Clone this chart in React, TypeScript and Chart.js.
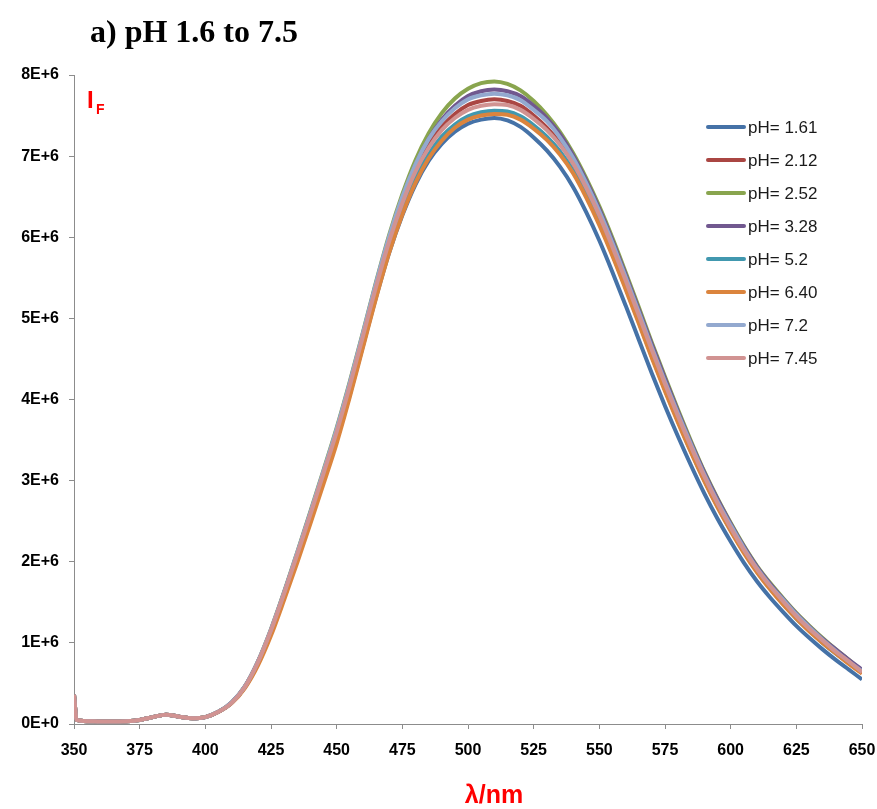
import React, { useEffect, useRef } from 'react';
import { Chart, registerables } from 'chart.js';

Chart.register(...registerables);

// wavelength (nm)
const WAVELENGTH = [
  350, 351, 355, 360, 365, 370, 375, 380, 385, 390, 395, 400, 405,
  410, 415, 420, 425, 430, 435, 440, 445, 450, 455,
  460, 465, 470, 475, 480, 485, 490, 495, 500, 505,
  510, 515, 520, 525, 530, 535, 540, 545, 550, 555,
  560, 565, 570, 575, 580, 585, 590, 595, 600, 605,
  610, 615, 620, 625, 630, 635, 640, 645, 650,
];

// fluorescence intensity, in units of 1E+6
const PH_1_61 = [
  0.36, 0.05, 0.035, 0.03, 0.03, 0.035, 0.05, 0.085, 0.115, 0.09, 0.07, 0.085, 0.15,
  0.26, 0.45, 0.74, 1.12, 1.56, 2.03, 2.51, 3.0, 3.5, 4.06,
  4.66, 5.26, 5.81, 6.27, 6.65, 6.94, 7.15, 7.3, 7.4, 7.45,
  7.47, 7.44, 7.36, 7.23, 7.07, 6.87, 6.62, 6.31, 5.96, 5.57,
  5.16, 4.74, 4.32, 3.92, 3.54, 3.18, 2.84, 2.53, 2.25, 1.99,
  1.76, 1.56, 1.38, 1.21, 1.06, 0.92, 0.79, 0.67, 0.55,
];
const PH_2_12 = [
  0.36, 0.05, 0.035, 0.03, 0.03, 0.035, 0.05, 0.085, 0.115, 0.09, 0.07, 0.085, 0.15,
  0.26, 0.455, 0.76, 1.15, 1.6, 2.08, 2.575, 3.08, 3.59, 4.16,
  4.77, 5.38, 5.95, 6.43, 6.83, 7.14, 7.36, 7.52, 7.63, 7.68,
  7.7, 7.68, 7.62, 7.5, 7.35, 7.16, 6.91, 6.6, 6.25, 5.86,
  5.45, 5.02, 4.59, 4.17, 3.77, 3.39, 3.03, 2.71, 2.41, 2.14,
  1.9, 1.69, 1.5, 1.32, 1.17, 1.02, 0.89, 0.76, 0.64,
];
const PH_2_52 = [
  0.36, 0.05, 0.035, 0.03, 0.03, 0.035, 0.05, 0.085, 0.115, 0.09, 0.07, 0.085, 0.15,
  0.265, 0.46, 0.77, 1.17, 1.63, 2.12, 2.62, 3.13, 3.65, 4.22,
  4.83, 5.45, 6.03, 6.53, 6.95, 7.28, 7.53, 7.71, 7.83, 7.9,
  7.92, 7.89, 7.81, 7.68, 7.51, 7.3, 7.04, 6.73, 6.38, 5.99,
  5.57, 5.14, 4.7, 4.28, 3.87, 3.48, 3.11, 2.78, 2.48, 2.2,
  1.95, 1.74, 1.55, 1.37, 1.21, 1.06, 0.92, 0.79, 0.66,
];
const PH_3_28 = [
  0.36, 0.05, 0.035, 0.03, 0.03, 0.035, 0.05, 0.085, 0.115, 0.09, 0.07, 0.085, 0.15,
  0.265, 0.46, 0.765, 1.16, 1.62, 2.1, 2.6, 3.1, 3.62, 4.19,
  4.8, 5.42, 5.99, 6.48, 6.89, 7.21, 7.45, 7.62, 7.74, 7.8,
  7.82, 7.8, 7.74, 7.62, 7.47, 7.27, 7.01, 6.7, 6.35, 5.96,
  5.54, 5.11, 4.68, 4.26, 3.85, 3.46, 3.1, 2.77, 2.47, 2.19,
  1.94, 1.73, 1.54, 1.36, 1.2, 1.05, 0.92, 0.79, 0.67,
];
const PH_5_2 = [
  0.36, 0.05, 0.035, 0.03, 0.03, 0.035, 0.05, 0.085, 0.115, 0.09, 0.07, 0.085, 0.15,
  0.26, 0.45, 0.75, 1.135, 1.58, 2.055, 2.54, 3.04, 3.54, 4.11,
  4.71, 5.32, 5.87, 6.34, 6.73, 7.02, 7.24, 7.39, 7.49, 7.54,
  7.56, 7.55, 7.49, 7.38, 7.24, 7.06, 6.82, 6.52, 6.18, 5.79,
  5.38, 4.96, 4.53, 4.12, 3.73, 3.35, 3.0, 2.68, 2.39, 2.12,
  1.88, 1.67, 1.48, 1.3, 1.15, 1.0, 0.87, 0.75, 0.63,
];
const PH_6_40 = [
  0.36, 0.05, 0.035, 0.03, 0.03, 0.035, 0.05, 0.085, 0.115, 0.09, 0.07, 0.085, 0.148,
  0.255, 0.44, 0.72, 1.09, 1.53, 1.99, 2.47, 2.96, 3.46, 4.03,
  4.64, 5.25, 5.81, 6.28, 6.67, 6.97, 7.19, 7.35, 7.45, 7.5,
  7.52, 7.51, 7.45, 7.34, 7.2, 7.02, 6.79, 6.49, 6.15, 5.77,
  5.36, 4.94, 4.51, 4.1, 3.71, 3.34, 2.99, 2.67, 2.38, 2.11,
  1.87, 1.66, 1.47, 1.3, 1.14, 1.0, 0.87, 0.74, 0.62,
];
const PH_7_2 = [
  0.36, 0.05, 0.035, 0.03, 0.03, 0.035, 0.05, 0.085, 0.115, 0.09, 0.07, 0.085, 0.15,
  0.265, 0.46, 0.77, 1.17, 1.625, 2.115, 2.61, 3.12, 3.64, 4.21,
  4.82, 5.44, 6.01, 6.5, 6.9, 7.21, 7.43, 7.59, 7.7, 7.75,
  7.77, 7.75, 7.69, 7.57, 7.43, 7.23, 6.98, 6.67, 6.32, 5.93,
  5.51, 5.08, 4.64, 4.22, 3.82, 3.44, 3.07, 2.74, 2.45, 2.17,
  1.92, 1.71, 1.53, 1.35, 1.19, 1.04, 0.9, 0.77, 0.65,
];
const PH_7_45 = [
  0.36, 0.05, 0.035, 0.03, 0.03, 0.035, 0.05, 0.085, 0.115, 0.09, 0.07, 0.085, 0.15,
  0.26, 0.455, 0.76, 1.155, 1.61, 2.09, 2.585, 3.09, 3.6, 4.17,
  4.78, 5.39, 5.95, 6.42, 6.81, 7.1, 7.32, 7.47, 7.57, 7.62,
  7.64, 7.63, 7.57, 7.46, 7.32, 7.14, 6.91, 6.61, 6.27, 5.88,
  5.47, 5.04, 4.61, 4.19, 3.79, 3.41, 3.05, 2.72, 2.42, 2.15,
  1.91, 1.7, 1.51, 1.33, 1.17, 1.03, 0.89, 0.77, 0.64,
];

const SERIES = [PH_1_61, PH_2_12, PH_2_52, PH_3_28, PH_5_2, PH_6_40, PH_7_2, PH_7_45];
const SERIES_LABELS = ['pH= 1.61', 'pH= 2.12', 'pH= 2.52', 'pH= 3.28', 'pH= 5.2', 'pH= 6.40', 'pH= 7.2', 'pH= 7.45'];
const SERIES_COLORS = ['#4572A7', '#AA4643', '#89A54E', '#71588F', '#4198AF', '#DB843D', '#93A9CF', '#D19392'];

const TITLE = 'a) pH 1.6 to 7.5';
const Y_TITLE_MAIN = 'I';
const Y_TITLE_SUB = 'F';
const X_TITLE = 'λ/nm';

const SANS = '"Liberation Sans", Arial, sans-serif';
const SERIF = '"Liberation Serif", "Times New Roman", serif';

const overlayPlugin = {
  id: 'overlay',
  afterDraw(chart: any) {
    const ctx = chart.ctx as CanvasRenderingContext2D;
    ctx.save();
    // title
    ctx.fillStyle = '#000';
    ctx.textAlign = 'left';
    ctx.textBaseline = 'alphabetic';
    ctx.font = `bold 32px ${SERIF}`;
    ctx.fillText(TITLE, 90, 42);
    // I_F label
    ctx.fillStyle = '#FF0000';
    ctx.font = `bold 24px ${SANS}`;
    ctx.fillText(Y_TITLE_MAIN, 87, 108);
    ctx.font = `bold 14px ${SANS}`;
    ctx.fillText(Y_TITLE_SUB, 96, 114);
    // x title
    ctx.textAlign = 'center';
    ctx.font = `bold 25px ${SANS}`;
    ctx.fillText(X_TITLE, 494, 803);
    // legend
    ctx.textAlign = 'left';
    ctx.textBaseline = 'middle';
    ctx.font = `17px ${SANS}`;
    chart.data.datasets.forEach((ds: any, i: number) => {
      const y = 127 + i * 33;
      ctx.strokeStyle = ds.borderColor;
      ctx.lineWidth = 4;
      ctx.lineCap = 'round';
      ctx.beginPath();
      ctx.moveTo(708, y);
      ctx.lineTo(744, y);
      ctx.stroke();
      ctx.fillStyle = '#1a1a1a';
      ctx.fillText(ds.label, 748, y + 1);
    });
    ctx.restore();
  },
};

export default function App() {
  const canvasRef = useRef<HTMLCanvasElement | null>(null);

  useEffect(() => {
    document.body.style.margin = '0';
    const canvas = canvasRef.current;
    if (!canvas) return;
    const datasets = SERIES.map((vals, i) => ({
      label: SERIES_LABELS[i],
      data: WAVELENGTH.map((x, j) => ({ x, y: vals[j] })),
      borderColor: SERIES_COLORS[i],
      backgroundColor: SERIES_COLORS[i],
      borderWidth: 4,
      pointRadius: 0,
      fill: false,
      cubicInterpolationMode: 'monotone' as const,
      order: SERIES.length - 1 - i,
    }));
    const axisColor = '#8c8c8c';
    const chart = new Chart(canvas, {
      type: 'line',
      data: { datasets },
      options: {
        responsive: false,
        animation: false,
        devicePixelRatio: 1,
        layout: { padding: { left: 0, top: 75, right: 15, bottom: 0 } },
        plugins: {
          legend: { display: false },
          tooltip: { enabled: false },
          title: { display: false },
        },
        scales: {
          x: {
            type: 'linear',
            min: 350,
            max: 650,
            ticks: {
              stepSize: 25,
              autoSkip: false,
              maxRotation: 0,
              color: '#000',
              padding: 12,
              font: { family: SANS, size: 16, weight: 'bold' },
            },
            grid: { display: true, drawOnChartArea: false, drawTicks: true, tickLength: 5, color: axisColor },
            border: { display: true, color: axisColor, width: 1 },
            afterFit: (scale: any) => {
              scale.height = 85;
              scale.paddingLeft = 0;
              scale.paddingRight = 0;
            },
          },
          y: {
            type: 'linear',
            min: 0,
            max: 8,
            ticks: {
              stepSize: 1,
              color: '#000',
              padding: 10,
              font: { family: SANS, size: 16, weight: 'bold' },
              callback: (v: any) => (Number(v) === 0 ? '0E+0' : `${v}E+6`),
            },
            grid: { display: true, drawOnChartArea: false, drawTicks: true, tickLength: 5, color: axisColor },
            border: { display: true, color: axisColor, width: 1 },
            afterFit: (scale: any) => {
              scale.width = 74;
              scale.paddingTop = 0;
              scale.paddingBottom = 0;
            },
          },
        },
      } as any,
      plugins: [overlayPlugin],
    });
    return () => chart.destroy();
  }, []);

  return (
    <div style={{ width: 877, height: 809, background: '#fff' }}>
      <canvas ref={canvasRef} width={877} height={809} style={{ display: 'block', width: 877, height: 809 }} />
    </div>
  );
}
